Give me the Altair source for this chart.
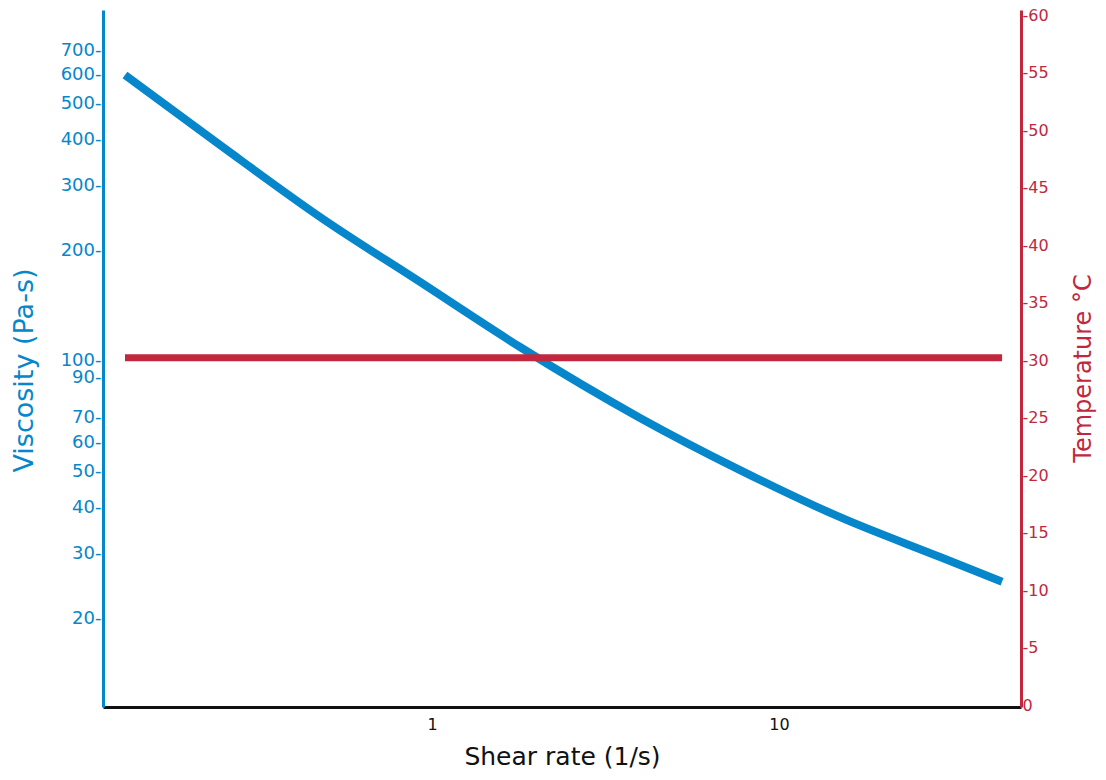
import altair as alt
import pandas as pd

# Data
shear = [0.1304, 0.245, 0.4756, 0.9235, 1.793, 3.976, 7.72, 14.99, 29.11, 43.92]
viscosity = [598.6, 386.2, 246.2, 163.9, 109.1, 70.0, 50.5, 37.6, 29.3, 25.1]
temp_shear = [0.1304, 43.92]
temperature = [30.2, 30.2]
visc_ticks = [20, 30, 40, 50, 60, 70, 90, 100, 200, 300, 400, 500, 600, 700]
temp_ticks = [0, 5, 10, 15, 20, 25, 30, 35, 40, 45, 50, 55, 60]
x_ticks = [1, 10]

BLUE = "#0686cb"
RED = "#c1283e"
FONT = "DejaVu Sans"

visc_df = pd.DataFrame({"shear": shear, "viscosity": viscosity})
temp_df = pd.DataFrame({"shear": temp_shear, "temperature": temperature})

xscale = alt.Scale(type="log", domain=[0.1127, 49.8], nice=False)
x_axis = alt.Axis(
    values=x_ticks, format="d", title="Shear rate (1/s)", grid=False,
    ticks=False, domainColor="#111111", domainWidth=3, labelColor="#111111",
    labelFont=FONT, labelFontSize=16, labelPadding=9,
    titleFont=FONT, titleFontSize=25, titleFontWeight="normal",
    titleColor="#111111", titlePadding=12,
)

visc = alt.Chart(visc_df).mark_line(color=BLUE, strokeWidth=8, interpolate="monotone").encode(
    x=alt.X("shear:Q", scale=xscale, axis=x_axis),
    y=alt.Y(
        "viscosity:Q",
        scale=alt.Scale(type="log", domain=[11.46, 899.3], nice=False),
        axis=alt.Axis(
            orient="left", values=visc_ticks, format="d", labelOverlap=False,
            labelExpr="datum.label + '-'", title="Viscosity (Pa-s)", grid=False,
            ticks=False, domainColor=BLUE, domainWidth=3, labelColor=BLUE,
            labelFont=FONT, labelFontSize=18, labelPadding=2,
            titleFont=FONT, titleFontSize=27, titleFontWeight="normal",
            titleColor=BLUE, titleAngle=270, titleBaseline="middle",
            titleAlign="center", titleX=-79, titleY=360,
        ),
    ),
)

temp = alt.Chart(temp_df).mark_line(color=RED, strokeWidth=7).encode(
    x=alt.X("shear:Q", scale=xscale, axis=x_axis),
    y=alt.Y(
        "temperature:Q",
        scale=alt.Scale(domain=[-0.17, 60.44], nice=False, zero=False),
        axis=alt.Axis(
            orient="right", values=temp_ticks, labelOverlap=False,
            labelExpr="datum.value == 0 ? '0' : '-' + datum.label",
            title="Temperature °C", grid=False,
            ticks=False, domainColor=RED, domainWidth=3, labelColor=RED,
            labelFont=FONT, labelFontSize=16, labelPadding=1,
            titleFont=FONT, titleFontSize=24, titleFontWeight="normal",
            titleColor=RED, titleAngle=270, titleBaseline="middle",
            titleAlign="center", titleX=62, titleY=358,
        ),
    ),
)

chart = alt.layer(visc, temp).resolve_scale(y="independent").properties(
    width=918, height=697,
    autosize=alt.AutoSizeParams(type="none"),
    padding={"left": 95, "top": 2, "right": 77, "bottom": 65},
).configure_view(strokeWidth=0)

chart.save("out.html", embed_options={"renderer": "svg", "actions": False})
